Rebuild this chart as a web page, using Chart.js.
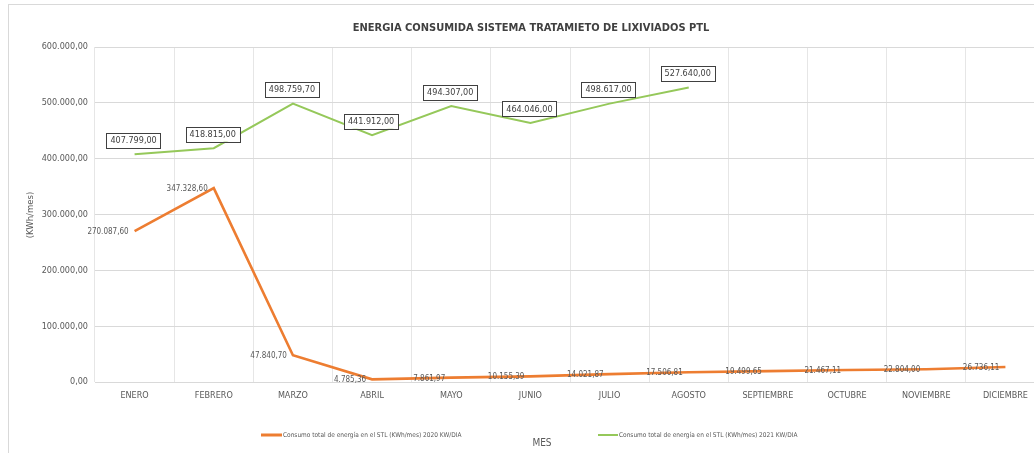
<!DOCTYPE html>
<html>
<head>
<meta charset="utf-8">
<script src="https://cdn.jsdelivr.net/npm/chart.js@4"></script>
<style>
html,body{margin:0;padding:0;background:#fff;overflow:hidden;width:1034px;height:453px;}
#wrap{position:absolute;left:0;top:0;width:1050px;height:453px;}
</style>
</head>
<body>
<div id="wrap"><canvas id="c" width="1050" height="453"></canvas></div>
<script>
const months = ['ENERO','FEBRERO','MARZO','ABRIL','MAYO','JUNIO','JULIO','AGOSTO','SEPTIEMBRE','OCTUBRE','NOVIEMBRE','DICIEMBRE'];
const consumo2020 = [270087.60, 347328.60, 47840.70, 4785.36, 7861.97, 10155.39, 14021.87, 17506.81, 19499.65, 21467.11, 22804.00, 26736.11];
const consumo2021 = [407799.00, 418815.00, 498759.70, 441912.00, 494307.00, 464046.00, 498617.00, 527640.00, null, null, null, null];
const seriesNames = ['Consumo total de energía en el STL (KWh/mes) 2020 KW/DIA', 'Consumo total de energía en el STL (KWh/mes) 2021 KW/DIA'];
const chartTitle = 'ENERGIA CONSUMIDA SISTEMA TRATAMIETO DE LIXIVIADOS PTL';
const yTitle = '(KWh/mes)';
const xTitle = 'MES';
const yMin = 0, yMax = 600000, yStep = 100000;

const FONT = "'Liberation Sans Narrow', 'DejaVu Sans Condensed', 'Liberation Sans', sans-serif";
const ORANGE = '#ED7D31';
const GREEN = '#95C85A';

function fmt(v){
  const parts = Number(v).toFixed(2).split('.');
  return parts[0].replace(/\B(?=(\d{3})+(?!\d))/g, '.') + ',' + parts[1];
}

const decor = {
  id: 'decor',
  beforeDraw(chart){
    const ctx = chart.ctx;
    ctx.save();
    ctx.strokeStyle = '#d9d9d9';
    ctx.lineWidth = 1;
    ctx.strokeRect(8.5, 4.5, 2000, 1000);
    ctx.restore();
  },
  afterDatasetsDraw(chart){
    const ctx = chart.ctx;
    ctx.save();
    const m0 = chart.getDatasetMeta(0);
    ctx.font = '8px ' + FONT;
    ctx.fillStyle = '#595959';
    ctx.textAlign = 'right';
    ctx.textBaseline = 'middle';
    m0.data.forEach((p, i) => {
      const v = consumo2020[i];
      if (v == null) return;
      ctx.fillText(fmt(v), p.x - 6, p.y + 1);
    });
    const m1 = chart.getDatasetMeta(1);
    ctx.font = '9px ' + FONT;
    ctx.textAlign = 'center';
    m1.data.forEach((p, i) => {
      const v = consumo2021[i];
      if (v == null) return;
      const t = fmt(v);
      const w = ctx.measureText(t).width + 8;
      const h = 15;
      const cx = p.x - 1, cy = p.y - 14;
      ctx.fillStyle = '#ffffff';
      ctx.fillRect(cx - w/2, cy - h/2, w, h);
      ctx.strokeStyle = '#404040';
      ctx.lineWidth = 1;
      ctx.strokeRect(Math.round(cx - w/2) + 0.5, Math.round(cy - h/2) + 0.5, Math.round(w), h);
      ctx.fillStyle = '#404040';
      ctx.fillText(t, cx, cy + 0.5);
    });
    ctx.restore();
  },
  afterDraw(chart){
    const ctx = chart.ctx;
    ctx.save();
    ctx.fillStyle = '#404040';
    ctx.font = 'bold 11px ' + FONT;
    ctx.textAlign = 'center';
    ctx.textBaseline = 'middle';
    ctx.fillText(chartTitle, 531, 28);
    ctx.save();
    ctx.translate(31, 215);
    ctx.rotate(-Math.PI/2);
    ctx.font = '9.5px ' + FONT;
    ctx.fillStyle = '#595959';
    ctx.fillText(yTitle, 0, 0);
    ctx.restore();
    ctx.font = '10px ' + FONT;
    ctx.fillStyle = '#595959';
    ctx.fillText(xTitle, 542, 443);
    ctx.textAlign = 'left';
    ctx.font = '6.5px ' + FONT;
    ctx.strokeStyle = ORANGE; ctx.lineWidth = 3;
    ctx.beginPath(); ctx.moveTo(261, 435); ctx.lineTo(282, 435); ctx.stroke();
    ctx.fillStyle = '#595959';
    ctx.fillText(seriesNames[0], 283, 435);
    ctx.strokeStyle = GREEN; ctx.lineWidth = 2;
    ctx.beginPath(); ctx.moveTo(598, 435); ctx.lineTo(618, 435); ctx.stroke();
    ctx.fillText(seriesNames[1], 619, 435);
    ctx.restore();
  }
};

new Chart(document.getElementById('c'), {
  type: 'line',
  data: {
    labels: months,
    datasets: [
      { label: seriesNames[0], data: consumo2020, borderColor: ORANGE, backgroundColor: ORANGE, borderWidth: 2.6, pointRadius: 0, tension: 0, fill: false },
      { label: seriesNames[1], data: consumo2021, borderColor: GREEN, backgroundColor: GREEN, borderWidth: 2, pointRadius: 0, tension: 0, fill: false, spanGaps: false }
    ]
  },
  options: {
    responsive: false,
    animation: false,
    devicePixelRatio: 1,
    layout: { padding: { top: 47, right: 5, bottom: 0, left: 0 } },
    plugins: { legend: { display: false }, title: { display: false }, tooltip: { enabled: false } },
    scales: {
      x: {
        offset: true,
        grid: { display: true, offset: true, color: '#e6e6e6', drawTicks: false },
        border: { display: true, color: '#d9d9d9' },
        ticks: { color: '#595959', font: { family: FONT, size: 9 }, padding: 8, maxRotation: 0, autoSkip: false },
        afterFit(s){ s.height = 71; }
      },
      y: {
        min: yMin, max: yMax,
        grid: { color: '#d9d9d9', drawTicks: false },
        border: { display: false },
        ticks: { stepSize: yStep, color: '#595959', font: { family: FONT, size: 9 }, padding: 7, callback: v => fmt(v) },
        afterFit(s){ s.width = 95; }
      }
    }
  },
  plugins: [decor]
});
</script>
</body>
</html>
